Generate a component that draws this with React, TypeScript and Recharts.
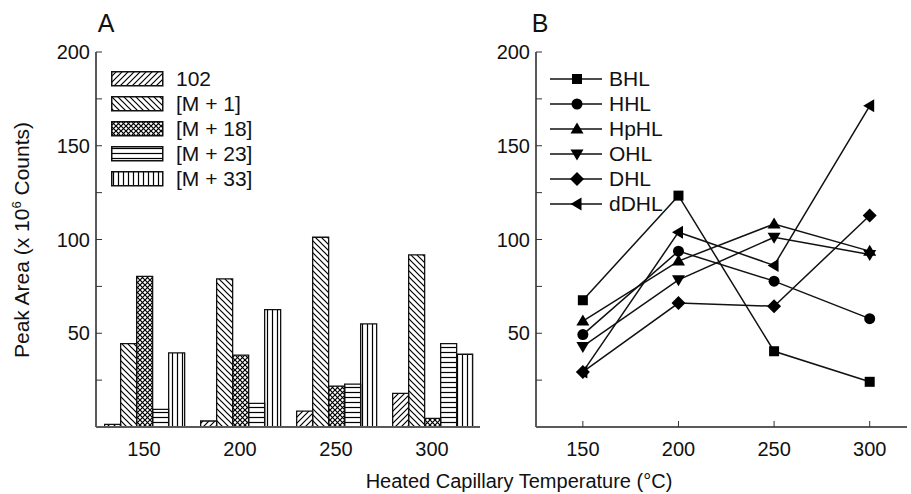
import { Bar, BarChart, Legend, Line, LineChart, XAxis, YAxis } from "recharts";

// Panel A: ion peak areas per capillary temperature
const TEMPS = [150, 200, 250, 300];
const ION_NAMES = ["102", "[M + 1]", "[M + 18]", "[M + 23]", "[M + 33]"];
const ION_102 = [1.4, 3.2, 8.5, 17.9];
const ION_M1 = [44.5, 79, 101.2, 91.8];
const ION_M18 = [80.3, 38.3, 21.8, 4.6];
const ION_M23 = [9.4, 12.6, 22.9, 44.5];
const ION_M33 = [39.5, 62.6, 55, 38.8];

// Panel B: lactones
const LACTONES = ["BHL", "HHL", "HpHL", "OHL", "DHL", "dDHL"];
const BHL = [67.6, 123.4, 40.4, 24.1];
const HHL = [49.3, 93.8, 77.8, 57.8];
const HPHL = [56.5, 88.5, 108.3, 93.8];
const OHL = [43, 78.5, 101.2, 92];
const DHL = [29.4, 66.1, 64.4, 112.8];
const DDHL = [29.4, 103.9, 86.2, 171.3];

const Y_TICKS = [25, 50, 75, 100, 125, 150, 175, 200];

const FONT = "'Liberation Sans', Arial, Helvetica, sans-serif";
const INK = "#111";
const FRAME = "#5a5a5a";
const PATTERNS = ["p102", "pM1", "pM18", "pM23", "pM33"];
const SHAPES = ["square", "circle", "up", "down", "diamond", "left"];

const ionSeries = [ION_102, ION_M1, ION_M18, ION_M23, ION_M33];
const lactoneSeries = [BHL, HHL, HPHL, OHL, DHL, DDHL];

const barData = TEMPS.map((t, i) => {
  const row: Record<string, number | string> = { t: String(t) };
  ION_NAMES.forEach((n, k) => (row[n] = ionSeries[k][i]));
  return row;
});

const lineData = TEMPS.map((t, i) => {
  const row: Record<string, number> = { t };
  LACTONES.forEach((n, k) => (row[n] = lactoneSeries[k][i]));
  return row;
});

const yFmt = (v: number) => (v % 50 === 0 ? String(v) : "");
const tickStyle = { fontSize: 20, fill: INK, fontFamily: FONT };

function Marker({ cx, cy, shape }: { cx?: number; cy?: number; shape: string }) {
  if (cx == null || cy == null) return null;
  switch (shape) {
    case "square":
      return <rect x={cx - 5} y={cy - 5} width={10} height={10} fill="#000" />;
    case "circle":
      return <circle cx={cx} cy={cy} r={5.5} fill="#000" />;
    case "up":
      return <polygon points={`${cx},${cy - 6.5} ${cx + 6.5},${cy + 4.5} ${cx - 6.5},${cy + 4.5}`} fill="#000" />;
    case "down":
      return <polygon points={`${cx},${cy + 6.5} ${cx + 6.5},${cy - 4.5} ${cx - 6.5},${cy - 4.5}`} fill="#000" />;
    case "diamond":
      return <polygon points={`${cx},${cy - 7} ${cx + 7},${cy} ${cx},${cy + 7} ${cx - 7},${cy}`} fill="#000" />;
    default:
      return <polygon points={`${cx - 6.5},${cy} ${cx + 4.5},${cy - 6.5} ${cx + 4.5},${cy + 6.5}`} fill="#000" />;
  }
}

function PatternDefs() {
  return (
    <svg width={0} height={0} style={{ position: "absolute" }}>
      <defs>
        <pattern id="p102" patternUnits="userSpaceOnUse" width={6} height={6}>
          <path d="M0,6 L6,0 M-1,1 L1,-1 M5,7 L7,5" stroke="#000" strokeWidth={1.2} />
        </pattern>
        <pattern id="pM1" patternUnits="userSpaceOnUse" width={6} height={6}>
          <path d="M0,0 L6,6 M-1,5 L1,7 M5,-1 L7,1" stroke="#000" strokeWidth={1.2} />
        </pattern>
        <pattern id="pM18" patternUnits="userSpaceOnUse" width={5} height={5}>
          <path d="M0,0 L5,5 M0,5 L5,0" stroke="#000" strokeWidth={1.2} />
        </pattern>
        <pattern id="pM23" patternUnits="userSpaceOnUse" width={4} height={5}>
          <path d="M0,2.5 L4,2.5" stroke="#000" strokeWidth={1.2} />
        </pattern>
        <pattern id="pM33" patternUnits="userSpaceOnUse" width={5} height={4}>
          <path d="M2.5,0 L2.5,4" stroke="#000" strokeWidth={1.2} />
        </pattern>
      </defs>
    </svg>
  );
}

const ionLegend = () => (
  <div style={{ fontFamily: FONT, fontSize: 21, color: INK }}>
    {ION_NAMES.map((n, i) => (
      <div key={n} style={{ display: "flex", alignItems: "center", height: 25 }}>
        <svg width={53} height={16}>
          <rect x={0.75} y={0.75} width={51} height={14} fill={`url(#${PATTERNS[i]})`} stroke="#111" strokeWidth={1.5} />
        </svg>
        <span style={{ marginLeft: 12 }}>{n}</span>
      </div>
    ))}
  </div>
);

const lactoneLegend = () => (
  <div style={{ fontFamily: FONT, fontSize: 21, color: INK }}>
    {LACTONES.map((n, i) => (
      <div key={n} style={{ display: "flex", alignItems: "center", height: 25 }}>
        <svg width={54} height={16}>
          <line x1={0} y1={8} x2={52} y2={8} stroke="#111" strokeWidth={1.5} />
          <Marker cx={27} cy={8} shape={SHAPES[i]} />
        </svg>
        <span style={{ marginLeft: 5 }}>{n}</span>
      </div>
    ))}
  </div>
);

export default function App() {
  return (
    <div style={{ position: "absolute", left: 0, top: 0, width: 911, height: 494, background: "#fff", fontFamily: FONT }}>
      <PatternDefs />
      <div style={{ position: "absolute", left: 0, top: 0 }}>
        <BarChart width={490} height={494} data={barData} margin={{ top: 52, right: 10, bottom: 0, left: 0 }} barGap={0} barCategoryGap="9%">
          <XAxis dataKey="t" height={67} tickLine={false} tickSize={0} tickMargin={15} tick={tickStyle}
            axisLine={{ stroke: FRAME, strokeWidth: 2 }} />
          <XAxis xAxisId="top" dataKey="t" orientation="top" height={0} tick={false} tickLine={false}
            axisLine={{ stroke: FRAME, strokeWidth: 2 }} />
          <YAxis width={96} domain={[0, 200]} ticks={Y_TICKS} tickFormatter={yFmt} tickSize={-6} tickMargin={12}
            tick={tickStyle} tickLine={{ stroke: "#333" }} axisLine={{ stroke: FRAME, strokeWidth: 2 }} />
          <YAxis yAxisId="right" orientation="right" width={0} domain={[0, 200]} tick={false} tickLine={false}
            axisLine={{ stroke: FRAME, strokeWidth: 2 }} />
          <Legend layout="vertical" align="center" verticalAlign="middle" content={ionLegend}
            wrapperStyle={{ left: 111, top: 66, width: 150 }} />
          {ION_NAMES.map((n, i) => (
            <Bar key={n} dataKey={n} fill={`url(#${PATTERNS[i]})`} stroke="#111" strokeWidth={1.3} isAnimationActive={false} />
          ))}
        </BarChart>
      </div>
      <div style={{ position: "absolute", left: 440, top: 0 }}>
        <LineChart width={471} height={494} data={lineData} margin={{ top: 52, right: 4, bottom: 0, left: 0 }}>
          <XAxis dataKey="t" type="number" domain={[125.5, 319.5]} ticks={TEMPS} allowDataOverflow height={67}
            tickSize={-6} tickMargin={21} tick={tickStyle} tickLine={{ stroke: "#333" }}
            axisLine={{ stroke: FRAME, strokeWidth: 2 }} />
          <XAxis xAxisId="top" dataKey="t" type="number" domain={[125.5, 319.5]} orientation="top" height={0}
            tick={false} tickLine={false} axisLine={{ stroke: FRAME, strokeWidth: 2 }} />
          <YAxis width={96} domain={[0, 200]} ticks={Y_TICKS} tickFormatter={yFmt} tickSize={-6} tickMargin={12}
            tick={tickStyle} tickLine={{ stroke: "#333" }} axisLine={{ stroke: FRAME, strokeWidth: 2 }} />
          <YAxis yAxisId="right" orientation="right" width={0} domain={[0, 200]} tick={false} tickLine={false}
            axisLine={{ stroke: FRAME, strokeWidth: 2 }} />
          <Legend layout="vertical" align="center" verticalAlign="middle" content={lactoneLegend}
            wrapperStyle={{ left: 110, top: 66, width: 150 }} />
          {LACTONES.map((n, i) => (
            <Line key={n} dataKey={n} stroke="#111" strokeWidth={1.5} isAnimationActive={false}
              dot={(p: any) => <Marker key={`${n}-${p.index}`} cx={p.cx} cy={p.cy} shape={SHAPES[i]} />} />
          ))}
        </LineChart>
      </div>
      <svg width={911} height={494} style={{ position: "absolute", left: 0, top: 0, pointerEvents: "none" }}>
        <text x={106} y={32} textAnchor="middle" fontSize={25} fill={INK} fontFamily={FONT}>A</text>
        <text x={540} y={32} textAnchor="middle" fontSize={25} fill={INK} fontFamily={FONT}>B</text>
        <text x={519} y={488} textAnchor="middle" fontSize={20} fill={INK} fontFamily={FONT}>
          Heated Capillary Temperature (°C)
        </text>
        <text x={29} y={240} transform="rotate(-90 29 240)" textAnchor="middle" fontSize={21} fill={INK} fontFamily={FONT}>
          Peak Area (x 10<tspan fontSize={13} dy={-8}>6</tspan><tspan dy={8}> Counts)</tspan>
        </text>
      </svg>
    </div>
  );
}
